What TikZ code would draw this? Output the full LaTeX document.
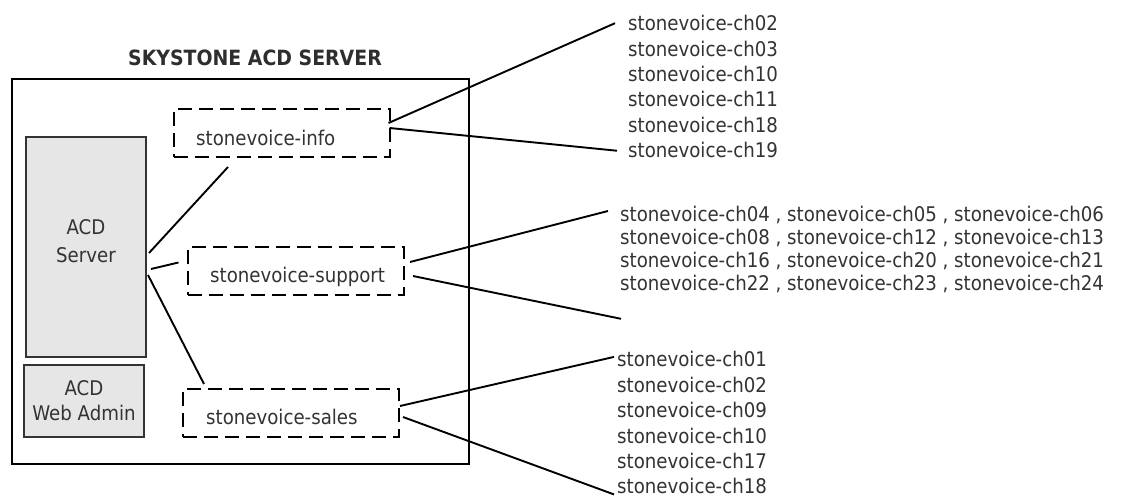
\documentclass[tikz,border=0pt]{standalone}
\usepackage{fontspec}
\setmainfont{DejaVu Sans Condensed}
\usetikzlibrary{calc}
\definecolor{textgray}{HTML}{333333}
\definecolor{titlegray}{HTML}{2E2E2E}
\definecolor{fillgray}{HTML}{E6E6E6}
\definecolor{boxgray}{HTML}{333333}
\begin{document}
\begin{tikzpicture}[x=1pt,y=-1pt,
  txt/.style={text=textgray, font=\fontsize{20.2}{25.4}\selectfont, inner sep=0pt},
  dbox/.style={draw=black, line width=2pt, dash pattern=on 14pt off 7pt,
    minimum width=216pt, minimum height=48pt, inner sep=0pt},
  gbox/.style={draw=boxgray, line width=2pt, fill=fillgray, inner sep=0pt},
  conn/.style={draw=black, line width=1.9pt}]
\useasboundingbox (0,0) rectangle (1132,498);
\fill[white] (0,0) rectangle (1132,498);
% title and outer frame
\node[font=\bfseries\fontsize{21}{25}\selectfont, text=titlegray, anchor=base, inner sep=0pt] (title) at (255,65) {SKYSTONE ACD SERVER};
\node[draw=black, line width=2pt, minimum width=457pt, minimum height=385pt, inner sep=0pt] (outer) at (240.5,271.5) {};
% left boxes
\node[gbox, minimum width=120pt, minimum height=220pt] (server) at (86,247) {};
\node[txt, align=center, font=\fontsize{20.2}{28}\selectfont] (serverlabel) at (86,241) {ACD\\Server};
\node[gbox, txt, minimum width=120pt, minimum height=72pt, align=center, font=\fontsize{20.2}{25}\selectfont] (webadmin) at (84,401) {ACD\\Web Admin};
% dashed queue boxes
\node[dbox] (info) at (281.5,133) {};
\node[txt, anchor=base west] (infotext) at (196,145) {stonevoice-info};
\node[dbox] (support) at (295.5,270.5) {};
\node[txt, anchor=base west] (supporttext) at (210,282) {stonevoice-support};
\node[dbox, minimum width=216pt] (sales) at (291,413) {};
\node[txt, anchor=base west] (salestext) at (206,424) {stonevoice-sales};
% channel lists
\node[txt, align=left, anchor=north west] (infolist) at (628,15.2) {stonevoice-ch02\\stonevoice-ch03\\stonevoice-ch10\\stonevoice-ch11\\stonevoice-ch18\\stonevoice-ch19};
\node[txt, align=left, anchor=north west, font=\fontsize{20.2}{23}\selectfont] (supportlist) at (620,205.7) {stonevoice-ch04 , stonevoice-ch05 , stonevoice-ch06\\stonevoice-ch08 , stonevoice-ch12 , stonevoice-ch13\\stonevoice-ch16 , stonevoice-ch20 , stonevoice-ch21\\stonevoice-ch22 , stonevoice-ch23 , stonevoice-ch24};
\node[txt, align=left, anchor=north west] (saleslist) at (617,351.4) {stonevoice-ch01\\stonevoice-ch02\\stonevoice-ch09\\stonevoice-ch10\\stonevoice-ch17\\stonevoice-ch18};
% connectors server -> queues
\draw[conn] ($(server.east)+(2,6)$) -- ($(info.south)+(-53.5,9)$);
\draw[conn] ($(server.east)+(4,22)$) -- ($(support.west)+(-8,-8)$);
\draw[conn] ($(server.east)+(1,28)$) -- ($(sales.north west)+(22,-4)$);
% connectors queues -> channel lists
\draw[conn] ($(info.east)+(-2,-10)$) -- ($(infolist.north west)+(-13,8)$);
\draw[conn] ($(info.east)+(-1,-5)$) -- ($(infolist.south west)+(-11,-7.5)$);
\draw[conn] ($(support.east)+(5.5,-8.5)$) -- ($(supportlist.north west)+(-12,5.3)$);
\draw[conn] ($(support.east)+(8.5,5.5)$) -- ($(supportlist.south west)+(1,26)$);
\draw[conn] ($(sales.east)+(0,-7)$) -- ($(saleslist.north west)+(-3,5.5)$);
\draw[conn] ($(sales.east)+(3,4)$) -- ($(saleslist.south west)+(-3,0)$);
\end{tikzpicture}
\end{document}
